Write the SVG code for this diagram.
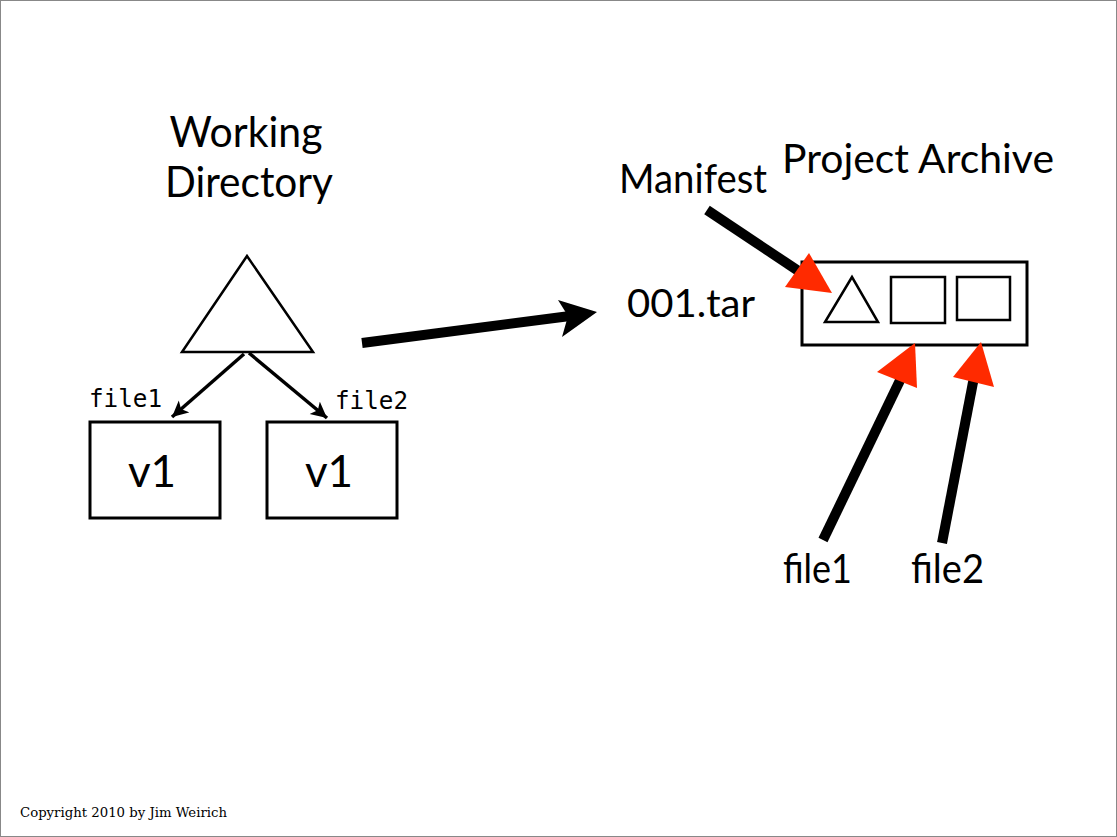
<svg xmlns="http://www.w3.org/2000/svg" width="1117" height="837" viewBox="0 0 1117 837">
<style>
.lbl{font-family:Lato,"Open Sans","Liberation Sans",sans-serif;fill:#000}
.mono{font-family:"DejaVu Sans Mono","Liberation Mono",monospace;font-size:24px;fill:#000}
.box{fill:#fff;stroke:#000;stroke-width:3}
.thin{fill:none;stroke:#000;stroke-width:2.5}
.conn{fill:none;stroke:#000;stroke-width:3.5}
.thick{stroke:#000;stroke-width:10;stroke-linecap:butt;fill:none}
.red{fill:#ff2a00}
</style>
<defs>
<marker id="ah" markerUnits="userSpaceOnUse" markerWidth="20" markerHeight="18" refX="16" refY="8" orient="auto">
<path d="M0,0 L16,8 L0,16 L4,8 Z" fill="#000"/>
</marker>
</defs>
<rect x="0.5" y="0.5" width="1116" height="836" fill="#fff" stroke="#888" stroke-width="1"/>

<g id="title-working">
<text class="lbl" x="246" y="147" font-size="42" text-anchor="middle" textLength="153" lengthAdjust="spacingAndGlyphs">Working</text>
<text class="lbl" x="249" y="197" font-size="42" text-anchor="middle" textLength="168" lengthAdjust="spacingAndGlyphs">Directory</text>
</g>

<g id="tree">
<polygon class="thin" points="247,256 182,352 313,352"/>
</g>

<g id="file1-box">
<rect class="box" x="90" y="422" width="130" height="96"/>
<text class="lbl" x="152" y="487" font-size="44" text-anchor="middle">v1</text>
</g>
<g id="file2-box">
<rect class="box" x="267" y="422" width="130" height="96"/>
<text class="lbl" x="329" y="487" font-size="44" text-anchor="middle">v1</text>
</g>

<g id="file-labels-left">
<text class="mono" x="89" y="407" textLength="73" lengthAdjust="spacingAndGlyphs">file1</text>
<text class="mono" x="335" y="409" textLength="73" lengthAdjust="spacingAndGlyphs">file2</text>
</g>

<g id="tar-label">
<text class="lbl" x="627" y="317" font-size="38" textLength="128" lengthAdjust="spacingAndGlyphs">001.tar</text>
</g>

<g id="archive-title">
<text class="lbl" x="782" y="173" font-size="40" textLength="272" lengthAdjust="spacingAndGlyphs">Project Archive</text>
</g>
<g id="manifest-label">
<text class="lbl" x="619" y="193" font-size="40" textLength="148" lengthAdjust="spacingAndGlyphs">Manifest</text>
</g>

<g id="archive">
<rect class="box" x="802" y="262" width="225" height="83"/>
<polygon class="thin" points="852,277 825,322 878,322"/>
<rect class="thin" x="891" y="277" width="54" height="46"/>
<rect class="thin" x="957" y="277" width="53" height="43"/>
</g>

<g id="bottom-labels">
<text class="lbl" x="783" y="583" font-size="40" textLength="69" lengthAdjust="spacingAndGlyphs">file1</text>
<text class="lbl" x="911" y="583" font-size="40" textLength="73" lengthAdjust="spacingAndGlyphs">file2</text>
</g>

<g id="connectors">
<line class="conn" x1="244" y1="354" x2="172" y2="417" marker-end="url(#ah)"/>
<line class="conn" x1="249" y1="353" x2="327" y2="418" marker-end="url(#ah)"/>
<line class="thick" x1="362" y1="343" x2="570" y2="316"/>
<polygon points="597,312 558,300 568,316 562,337" fill="#000"/>
<line class="thick" x1="707" y1="210" x2="806" y2="276"/>
<polygon class="red" points="832,293 809,253 785,287"/>
<line class="thick" x1="823" y1="540" x2="905" y2="370"/>
<polygon class="red" points="915,343 877,372 917,388"/>
<line class="thick" x1="942" y1="543" x2="975" y2="372"/>
<polygon class="red" points="981,342 953,377 994,387"/>
</g>

<g id="copyright">
<text x="20" y="817" font-family="'DejaVu Serif','Liberation Serif',serif" font-size="12" textLength="207" lengthAdjust="spacingAndGlyphs" fill="#000">Copyright 2010 by Jim Weirich</text>
</g>
</svg>
